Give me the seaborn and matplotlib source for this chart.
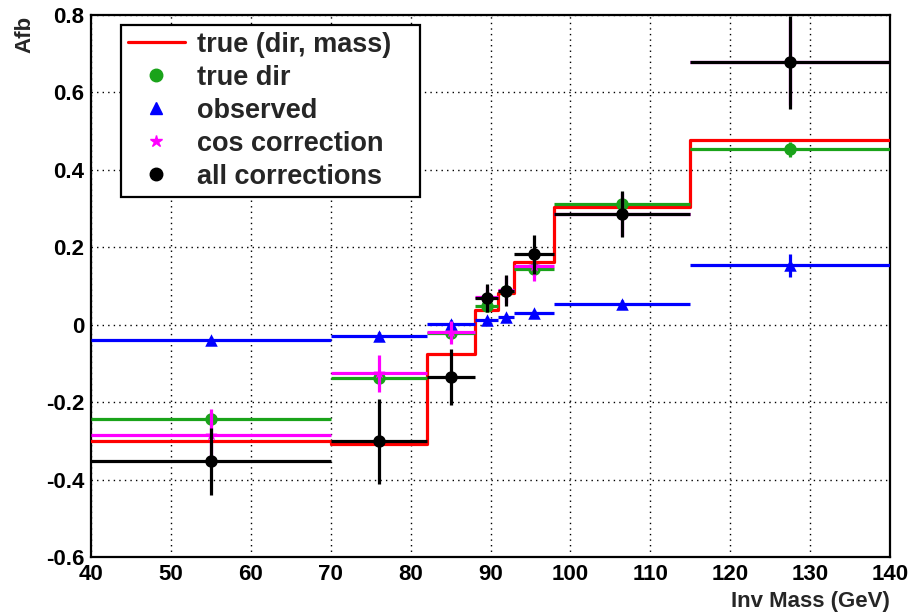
import numpy as np
import pandas as pd
import matplotlib
matplotlib.use("Agg")
import matplotlib.pyplot as plt
from matplotlib.lines import Line2D
from matplotlib.ticker import MultipleLocator
import seaborn as sns

# Invariant-mass binning (GeV)
bin_edges = [40, 70, 82, 88, 91, 93, 98, 115, 140]
bin_centers = [55, 76, 85, 89.5, 92, 95.5, 106.5, 127.5]

# Forward-backward asymmetry per bin
afb_true_dir_mass = [-0.300, -0.308, -0.076, 0.039, 0.082, 0.163, 0.305, 0.477]
afb_true_dir = [-0.243, -0.138, -0.022, 0.049, 0.086, 0.144, 0.312, 0.453]
err_true_dir = [0.015, 0.012, 0.010, 0.008, 0.008, 0.010, 0.012, 0.020]
afb_observed = [-0.039, -0.028, 0.002, 0.012, 0.019, 0.030, 0.054, 0.153]
err_observed = [0.008, 0.008, 0.010, 0.008, 0.008, 0.008, 0.010, 0.030]
afb_cos_corr = [-0.284, -0.126, -0.020, 0.071, 0.090, 0.152, 0.285, 0.678]
err_cos_corr = [0.066, 0.047, 0.030, 0.030, 0.035, 0.040, 0.055, 0.110]
afb_all_corr = [-0.353, -0.301, -0.136, 0.069, 0.088, 0.182, 0.286, 0.678]
err_all_corr = [0.087, 0.110, 0.072, 0.037, 0.040, 0.050, 0.059, 0.120]

labels = ["true (dir, mass)", "true dir", "observed", "cos correction", "all corrections"]

sns.set_style("white")
plt.rcParams["font.family"] = ["Liberation Sans", "DejaVu Sans"]
plt.rcParams["font.weight"] = "bold"

fig = plt.figure(figsize=(9.15, 6.15), dpi=100)
ax = fig.add_axes([91 / 915, 1 - 557 / 615, 799 / 915, 542 / 615])

edges = np.array(bin_edges, dtype=float)
half_width = np.diff(edges) / 2.0

# Step histogram for the generator-level asymmetry
step_df = pd.DataFrame({
    "mass": edges,
    "afb": list(afb_true_dir_mass) + [afb_true_dir_mass[-1]],
})
sns.lineplot(data=step_df, x="mass", y="afb", ax=ax, color="#ff0000",
             linewidth=2.3, drawstyle="steps-post", sort=False,
             estimator=None, zorder=3)

series = [
    (afb_true_dir, err_true_dir, "#1aa31a", "o", 9),
    (afb_observed, err_observed, "#0000ff", "^", 9),
    (afb_cos_corr, err_cos_corr, "#ff00ff", "*", 9),
    (afb_all_corr, err_all_corr, "#000000", "o", 9),
]
for i, (vals, errs, col, mk, ms) in enumerate(series):
    ax.errorbar(bin_centers, vals, xerr=half_width, yerr=errs, fmt="none",
                ecolor=col, elinewidth=2.3, capsize=0, zorder=4 + i)
    df = pd.DataFrame({"mass": bin_centers, "afb": vals})
    sns.scatterplot(data=df, x="mass", y="afb", ax=ax, color=col, marker=mk,
                    s=ms ** 2, edgecolor=col, linewidth=0, zorder=4.5 + i)

ax.set_xlim(40, 140)
ax.set_ylim(-0.6, 0.8)
ax.xaxis.set_major_locator(MultipleLocator(10))
ax.xaxis.set_minor_locator(MultipleLocator(2))
ax.yaxis.set_major_locator(MultipleLocator(0.2))
ax.yaxis.set_minor_locator(MultipleLocator(0.05))
ax.set_yticks(np.arange(-0.6, 0.81, 0.2))
ax.set_yticklabels(["-0.6", "-0.4", "-0.2", "0", "0.2", "0.4", "0.6", "0.8"])

ax.grid(True, which="major", linestyle=(0, (1, 3)), color="black", linewidth=1.0)
ax.set_axisbelow(True)
for sp in ax.spines.values():
    sp.set_visible(True)
    sp.set_color("black")
    sp.set_linewidth(1.6)

ax.tick_params(axis="both", which="both", direction="in", top=False, right=False,
               colors="black", labelsize=16)
ax.tick_params(axis="y", which="major", length=16, width=1.2, pad=5)
ax.tick_params(axis="y", which="minor", length=8, width=1.2)
ax.tick_params(axis="x", which="major", length=16, width=1.2, pad=5)
ax.tick_params(axis="x", which="minor", length=8, width=1.2)
for t in ax.get_xticklabels() + ax.get_yticklabels():
    t.set_fontweight("bold")

ax.set_xlabel("")
ax.set_ylabel("")
fig.text(25 / 915, 1 - 16 / 615, "Afb", rotation=90, ha="center", va="top",
         fontsize=16, fontweight="bold")
fig.text(890 / 915, 1 - 607 / 615, "Inv Mass (GeV)", ha="right", va="baseline",
         fontsize=16, fontweight="bold")

handles = [
    Line2D([], [], color="#ff0000", linewidth=2.3),
    Line2D([], [], color="#1aa31a", marker="o", linestyle="none", markersize=9),
    Line2D([], [], color="#0000ff", marker="^", linestyle="none", markersize=9),
    Line2D([], [], color="#ff00ff", marker="*", linestyle="none", markersize=9),
    Line2D([], [], color="#000000", marker="o", linestyle="none", markersize=9),
]
leg = ax.legend(handles, labels, loc="upper left", mode="expand",
                bbox_to_anchor=(0.0375, 0.672, 0.3745, 0.3095),
                frameon=True, fancybox=False,
                shadow=False, framealpha=1.0, edgecolor="black",
                prop={"size": 19.5, "weight": "bold"}, handlelength=2.1,
                handletextpad=0.45, labelspacing=0.26, borderpad=0.25,
                borderaxespad=0.0)
leg.get_frame().set_linewidth(1.6)
leg.set_zorder(20)

fig.savefig("out.png", dpi=100)
